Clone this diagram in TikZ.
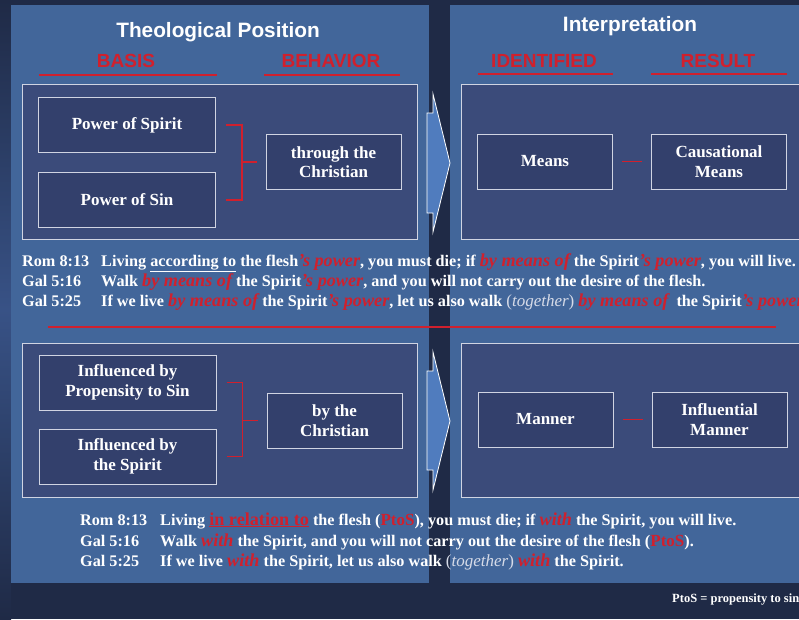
\documentclass[tikz,border=0pt]{standalone}
\usepackage{fontspec}
\setmainfont{Liberation Serif}
\setsansfont{Liberation Sans}
\usepackage{xcolor}
\usetikzlibrary{positioning, arrows.meta}
\definecolor{navybg}{RGB}{31,42,70}
\definecolor{navymid}{RGB}{56,82,134}
\definecolor{panelblue}{RGB}{66,102,154}
\definecolor{frameblue}{RGB}{59,75,122}
\definecolor{termblue}{RGB}{51,64,108}
\definecolor{edgegray}{RGB}{208,212,226}
\definecolor{hlred}{RGB}{208,32,45}
\definecolor{chevblue}{RGB}{80,124,190}
\definecolor{softwhite}{RGB}{214,219,232}
\tikzset{
  panel/.style={fill=panelblue},
  frame/.style={draw=edgegray, fill=frameblue, line width=0.9pt},
  term/.style={
    draw=edgegray, fill=termblue, line width=1pt,
    text=white, align=center, inner sep=2pt,
    font={\fontsize{17}{19.5}\selectfont\bfseries},
    minimum width=177pt, minimum height=55pt
  },
  who/.style={term, minimum width=135pt},
  title/.style={text=white, font={\sffamily\bfseries\fontsize{20.8}{24}\selectfont}},
  colhead/.style={text=hlred, font={\sffamily\bfseries\fontsize{19}{22}\selectfont}},
  rule/.style={draw=hlred, line width=1.2pt},
  bracket/.style={draw=hlred, line width=1.4pt},
  chevron/.style={draw=white, fill=chevblue, line width=0.8pt, line join=miter},
  verse/.style={text=white, anchor=base west, inner sep=0pt,
    font={\fontsize{16.2}{19}\selectfont\bfseries}},
  note/.style={text=white, anchor=base west, inner sep=0pt,
    font={\fontsize{12.5}{14}\selectfont\bfseries}},
}
\newcommand{\redit}[1]{{\fontsize{18.2}{19}\selectfont\color{hlred}\itshape #1}}
\newcommand{\redup}[1]{{\fontsize{17}{19}\selectfont\color{hlred}#1}}
\newcommand{\redul}[1]{{\fontsize{18.2}{19}\selectfont\color{hlred}\underline{#1}}}
\newcommand{\togeth}{{\fontsize{17}{19}\selectfont\mdseries\color{softwhite}(\textit{together})}}

\begin{document}
\begin{tikzpicture}[x=1pt, y=-1pt]
  \useasboundingbox (0,0) rectangle (799,619);
  \fill[navybg] (0,0) rectangle (799,619);
  \shade[top color=navybg, bottom color=navybg, middle color=navymid] (0,0) rectangle (11,619);

  \fill[panel] (11,5) rectangle (429,583);
  \fill[panel] (450,5) rectangle (810,583);

  \node[title] (theo) at (218,32) {Theological Position};
  \node[title] (interp) at (630,26) {Interpretation};
  \node[colhead] (basis) at (126,61) {BASIS};
  \node[colhead] (behav) at (331,61) {BEHAVIOR};
  \node[colhead] (ident) at (544,61) {IDENTIFIED};
  \node[colhead] (result) at (718,61) {RESULT};
  \draw[rule] (39,75) -- (217,75);
  \draw[rule] (264,75) -- (400,75);
  \draw[rule] (478,74) -- (613,74);
  \draw[rule] (651,74) -- (787,74);

  \draw[frame] (22,84) rectangle (417,239);
  \draw[frame] (461,84) rectangle (810,239);
  \draw[frame] (22,343) rectangle (417,497);
  \draw[frame] (461,343) rectangle (810,497);

  \draw[chevron] (427,113) -- (433,113) -- (433,94) -- (450,163)
    -- (433,232) -- (433,213) -- (427,213) -- cycle;
  \draw[chevron] (427,371) -- (433,371) -- (433,352) -- (450,421)
    -- (433,490) -- (433,470) -- (427,470) -- cycle;

  \node[term] (spirit) at (127,125) {Power of Spirit};
  \node[term] (sin) at (127,200) {Power of Sin};
  \node[who] (thru) at (333.5,162) {through the\\Christian};
  \node[who] (means) at (545,161.5) {Means};
  \node[who] (causal) at (719,161.5) {Causational\\Means};

  \draw[bracket] ([xshift=10pt]spirit.east) -- ++(16,0) |- ([xshift=10pt]sin.east);
  \draw[bracket] ([xshift=-25pt]thru.west) -- ([xshift=-9pt]thru.west);
  \draw[bracket, line width=0.8pt] ([xshift=9pt]means.east) -- ([xshift=-9pt]causal.west);

  \node[verse] (rom1) at (22,266) {Rom 8:13};
  \node[verse] (rom1t) at (101,266) {Living \underline{according to} the flesh\redit{’s power}, you must die; if \redit{by means of} the Spirit\redit{’s power}, you will live.};
  \node[verse] (gal1) at (22,286) {Gal 5:16};
  \node[verse] (gal1t) at (101,286) {Walk \redit{by means of} the Spirit\redit{’s power}, and you will not carry out the desire of the flesh.};
  \node[verse] (gal2) at (22,306) {Gal 5:25};
  \node[verse] (gal2t) at (101,306) {If we live \redit{by means of} the Spirit\redit{’s power}, let us also walk \togeth{} \redit{by means of}\ \ the Spirit\redit{’s power}};

  \draw[rule] (48,327) -- (776,327);

  \node[term] (ptos) at (127.5,382.5) {Influenced by\\Propensity to Sin};
  \node[term] (bySpirit) at (127.5,456.5) {Influenced by\\the Spirit};
  \node[who] (byChr) at (334.5,420.5) {by the\\Christian};
  \node[who] (manner) at (545.5,419.5) {Manner};
  \node[who] (influ) at (719.5,419.5) {Influential\\Manner};

  \draw[bracket] ([xshift=10pt]ptos.east) -- ++(16,0) |- ([xshift=10pt]bySpirit.east);
  \draw[bracket] ([xshift=-25pt]byChr.west) -- ([xshift=-9pt]byChr.west);
  \draw[bracket, line width=0.8pt] ([xshift=9pt]manner.east) -- ([xshift=-9pt]influ.west);

  \node[verse] (rom2) at (80,525) {Rom 8:13};
  \node[verse] (rom2t) at (160,525) {Living \redul{in relation to} the flesh (\redup{PtoS}), you must die; if \redit{with} the Spirit, you will live.};
  \node[verse] (gal3) at (80,546) {Gal 5:16};
  \node[verse] (gal3t) at (160,546) {Walk \redit{with} the Spirit, and you will not carry out the desire of the flesh (\redup{PtoS}).};
  \node[verse] (gal4) at (80,566) {Gal 5:25};
  \node[verse] (gal4t) at (160,566) {If we live \redit{with} the Spirit, let us also walk \togeth{} \redit{with} the Spirit.};

  \node[note] (key) at (672,602) {PtoS = propensity to sin};
\end{tikzpicture}
\end{document}
